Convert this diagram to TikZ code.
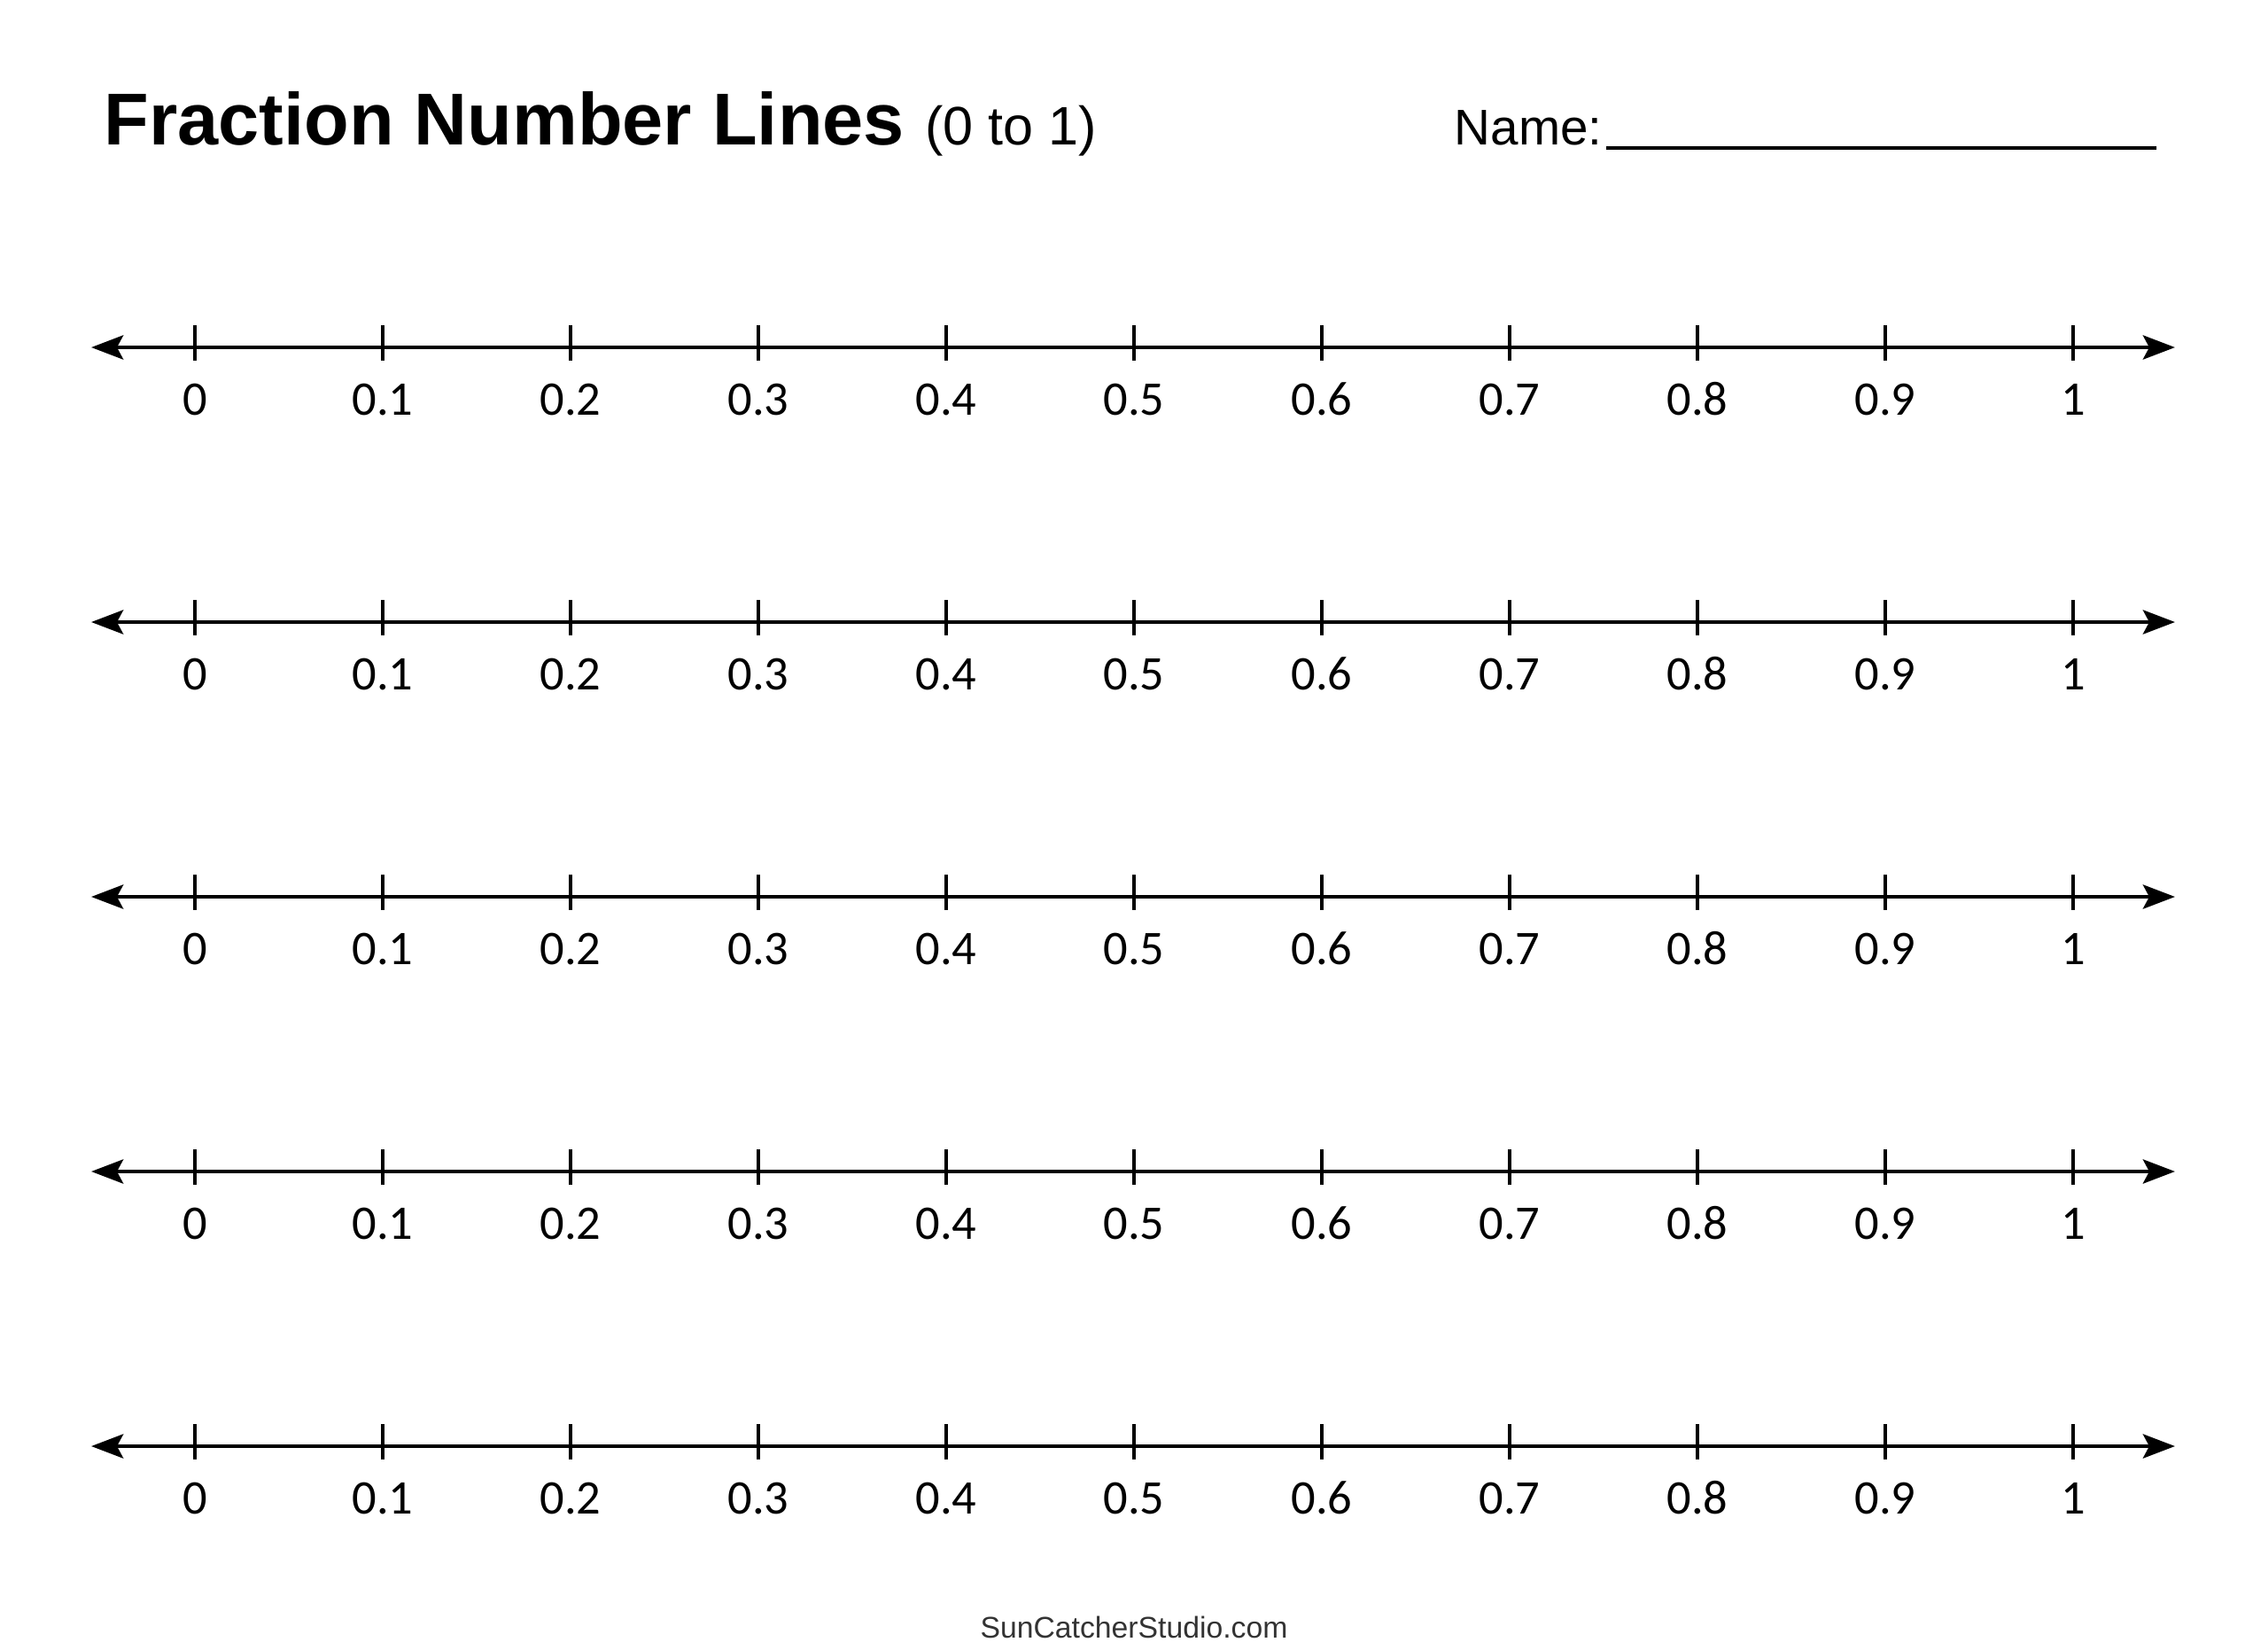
\documentclass[tikz,border=0pt]{standalone}
\usepackage{fontspec}
\setmainfont{Liberation Sans}
\newfontfamily\tickfont{Carlito}
\usetikzlibrary{arrows.meta}
\definecolor{FooterGray}{HTML}{333333}

\begin{document}
\begin{tikzpicture}[
    numline/.style={line width=1.4pt,{Stealth[length=0.36cm,width=0.27cm,inset=0.07cm]}-{Stealth[length=0.36cm,width=0.27cm,inset=0.07cm]}},
    tickmark/.style={line width=1.2pt},
    ticklabel/.style={anchor=base,inner sep=0pt,font=\tickfont\fontsize{15.5}{18}\selectfont},
  ]
    \useasboundingbox (0,0) rectangle (25.6,-18.61);
    \node[anchor=base west,inner sep=0pt,font=\bfseries\fontsize{23.6}{28}\selectfont] (title) at (1.17,-1.63) {Fraction Number Lines {\mdseries\fontsize{17.4}{20}\selectfont (0 to 1)}};
    \node[anchor=base west,inner sep=0pt,font=\fontsize{16.1}{19}\selectfont] (name) at (16.41,-1.63) {Name:};
    \coordinate (blank) at (24.34,-1.67);
    \draw[line width=1.1pt] ([shift={(0.04,-0.04)}]name.base east) -- (blank);
    \foreach \row in {0,...,4} {
     \coordinate (L\row) at (1.03,{-3.92-3.1*\row});
     \coordinate (R\row) at (24.55,{-3.92-3.1*\row});
     \draw[numline] (L\row) -- (R\row);
     \foreach \i/\lab in {0/0,1/0.1,2/0.2,3/0.3,4/0.4,5/0.5,6/0.6,7/0.7,8/0.8,9/0.9,10/1} {
      \coordinate (T\row-\i) at ({2.20+2.12*\i},{-3.92-3.1*\row});
      \draw[tickmark] ([yshift=0.25cm]T\row-\i) -- ([yshift=-0.15cm]T\row-\i);
      \node[ticklabel] (N\row-\i) at ([yshift=-0.76cm]T\row-\i) {\lab};
     }
    }
    \node[anchor=base,inner sep=0pt,text=FooterGray,font=\fontsize{9.6}{12}\selectfont] (footer) at (12.80,-18.48) {SunCatcherStudio.com};
\end{tikzpicture}
\end{document}
